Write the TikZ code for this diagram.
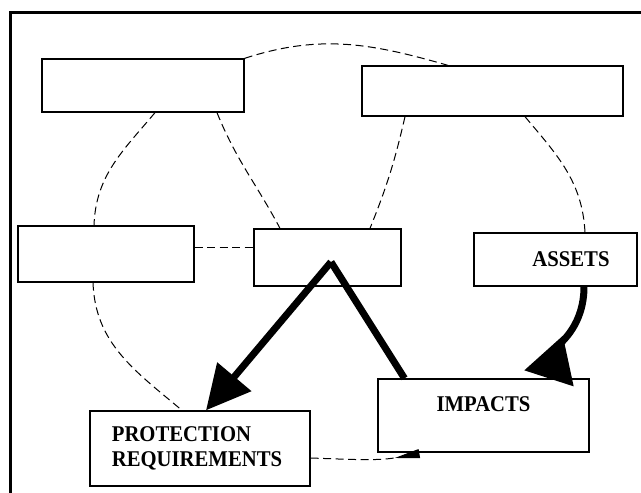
\documentclass[tikz,border=0pt]{standalone}
\usepackage{fontspec}
\setmainfont[FakeStretch=0.92]{Liberation Serif}
\usetikzlibrary{arrows.meta}
\tikzset{
	box/.style={draw, fill=white, line width=1.3pt, inner sep=0pt, font=\bfseries\fontsize{22.5}{25.5}\selectfont},
	txt/.style={font=\bfseries\fontsize{22.5}{25.5}\selectfont, inner sep=0pt},
	link/.style={dash pattern=on 8pt off 4.5pt, line width=1pt},
	flow/.style={line width=7pt},
}

\begin{document}
\begin{tikzpicture}[x=1pt, y=1pt]
		\useasboundingbox (0,0) rectangle (641,493);
		\draw[line width=3pt] (10,-20) rectangle (680,480);
		% boxes
		\node[box, minimum width=202pt, minimum height=53pt] (tl) at (143,407.5) {};
		\node[box, minimum width=261pt, minimum height=50pt] (tr) at (492.5,402) {};
		\node[box, minimum width=176pt, minimum height=56pt] (ml) at (106,239) {};
		\node[box, minimum width=147pt, minimum height=57pt] (mc) at (327.5,235.5) {};
		\node[box, minimum width=163pt, minimum height=53pt] (assets) at (555.5,233.5) {\hspace*{31pt}ASSETS};
		\node[box, minimum width=211pt, minimum height=73pt, label={[txt, yshift=11pt]center:IMPACTS}] (impacts) at (483.5,77.5) {};
		\node[box, minimum width=220pt, minimum height=75pt, align=left] (prot) at (200,44.5) {\hspace*{-6pt}PROTECTION\\\hspace*{-6pt}REQUIREMENTS};
		% dashed links
		\draw[link] ([xshift=12pt]tl.south) to[out=-130, in=88] ([xshift=-12pt]ml.north);
		\draw[link] ([xshift=-13pt]ml.south) to[out=-88, in=140] ([xshift=-18pt]prot.north);
		\draw[link] ([xshift=74pt]tl.south) to[out=-68, in=118] ([xshift=-47.5pt]mc.north);
		\draw[link] (tl.north east) to[out=18, in=164] ([xshift=-44.5pt]tr.north);
		\draw[link] ([xshift=-87.5pt]tr.south) to[out=-103, in=68] ([xshift=42.5pt]mc.north);
		\draw[link] ([xshift=32.5pt]tr.south) to[out=-50, in=93] ([xshift=29.5pt]assets.north);
		\draw[link] ([yshift=6pt]ml.east) -- ([yshift=6pt]ml.east -| mc.west);
		\draw[link, -{Triangle[reversed, length=25pt, width=9pt]}] ([yshift=-9.5pt]prot.east) to[out=-2, in=190] ([shift={(42pt,-1pt)}]impacts.south west);
		% thick arrows
		\coordinate (peak) at ([shift={(3.5pt,-4.5pt)}]mc.center);
		\draw[flow, -{Triangle[length=44pt, width=43pt]}] (peak) -- ([xshift=6pt]prot.north);
		\draw[flow] (peak) -- ([xshift=-79pt]impacts.north);
		\draw[flow, -{Triangle[reversed, length=45pt, width=50pt]}] ([xshift=28.5pt]assets.south) to[out=-90, in=72] ([xshift=65.5pt]impacts.north);
	\end{tikzpicture}
\end{document}
